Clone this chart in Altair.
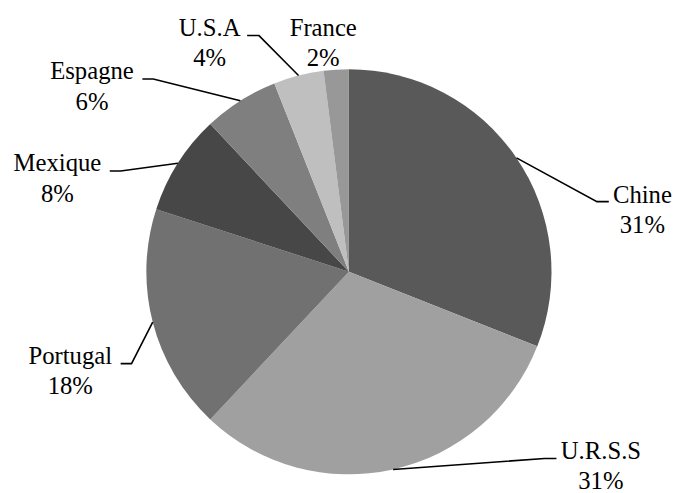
import math
import altair as alt
import pandas as pd

# ---- data -------------------------------------------------------------
countries = ["Chine", "U.R.S.S", "Portugal", "Mexique", "Espagne", "U.S.A", "France"]
shares = [31, 31, 18, 8, 6, 4, 2]
colors = ["#595959", "#a0a0a0", "#717171", "#474747", "#7f7f7f", "#bfbfbf", "#989898"]

# ---- layout (pixels relative to the pie centre, y downward) -----------
PIE_R = 205
CX, CY = 345, 264          # pie centre inside the plot area
W, H = 676, 485
FONT = "Liberation Serif"
label_pos = {              # centre x, first-line baseline y
    "Chine": (297, -70),
    "U.R.S.S": (255, 189),
    "Portugal": (-282, 93),
    "Mexique": (-295, -102),
    "Espagne": (-260, -195),
    "U.S.A": (-141, -239),
    "France": (-26, -239),
}
leader_pos = {             # (elbow x, end x, y)
    "Chine": (251, 263, -71),
    "U.R.S.S": (198, 210, 189),
    "Portugal": (-220, -231, 93),
    "Mexique": (-231, -242, -102),
    "Espagne": (-198, -209, -195),
    "U.S.A": (-91, -103, -239),
}

u = lambda px: px / PIE_R
xs = alt.Scale(domain=[u(-CX), u(W - CX)], nice=False, zero=False)
ys = alt.Scale(domain=[u(-(H - CY)), u(CY)], nice=False, zero=False)

pie_df = pd.DataFrame({"country": countries, "share": shares,
                       "idx": list(range(len(countries)))})

total = sum(shares)
labels, leaders = [], []
cum = 0
for c, v in zip(countries, shares):
    mid = 2 * math.pi * (cum + v / 2) / total
    cum += v
    lx, ly = label_pos[c]
    labels.append({"country": c, "label": f"{c}\n{v}%", "x": u(lx), "y": -u(ly)})
    if c in leader_pos:
        ex, nx, yy = leader_pos[c]
        pts = [(math.sin(mid), math.cos(mid)), (u(ex), -u(yy)), (u(nx), -u(yy))]
        for i, (px, py) in enumerate(pts):
            leaders.append({"country": c, "seq": i, "x": px, "y": py})

lab_df = pd.DataFrame(labels)
lead_df = pd.DataFrame(leaders)

pie = alt.Chart(pie_df).mark_arc(outerRadius=PIE_R, stroke=None).encode(
    theta=alt.Theta("share:Q", stack=True),
    order=alt.Order("idx:Q"),
    color=alt.Color("country:N", scale=alt.Scale(domain=countries, range=colors), legend=None),
    x=alt.XDatum(0, type="quantitative", scale=xs, axis=None),
    y=alt.YDatum(0, type="quantitative", scale=ys, axis=None),
)

lines = alt.Chart(lead_df).mark_line(color="black", strokeWidth=1.6).encode(
    x=alt.X("x:Q", scale=xs, axis=None),
    y=alt.Y("y:Q", scale=ys, axis=None),
    detail="country:N",
    order="seq:Q",
)

text = alt.Chart(lab_df).mark_text(
    lineBreak="\n", align="center", baseline="alphabetic",
    font=FONT, fontSize=25, lineHeight=31, color="black",
).encode(
    x=alt.X("x:Q", scale=xs, axis=None),
    y=alt.Y("y:Q", scale=ys, axis=None),
    text="label:N",
)

chart = alt.layer(pie, lines, text).properties(
    width=W, height=H, padding=0,
    autosize=alt.AutoSizeParams(type="none"),
).configure_view(stroke=None)

chart.save("out.html", embed_options={"renderer": "svg", "actions": False})
